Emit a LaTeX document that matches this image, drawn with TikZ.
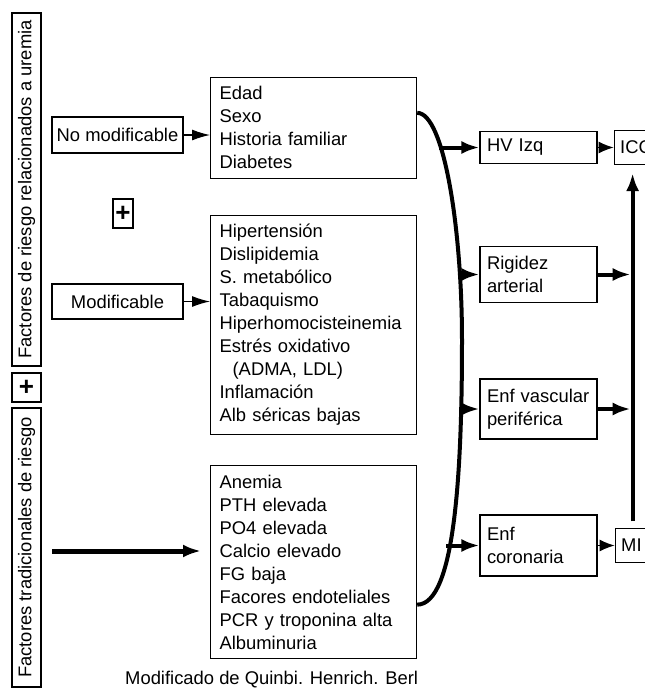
\documentclass[tikz,border=0pt]{standalone}
\usepackage{fontspec}
\setmainfont{Liberation Sans}
\usetikzlibrary{arrows.meta, positioning}

\begin{document}
\begin{tikzpicture}[x=1pt, y=1pt, >=Latex, node distance=16pt,
    box/.style={draw, line width=1.2pt, font=\fontsize{18.4}{23}\selectfont},
    listbox/.style={box, text width=188pt, align=left, inner xsep=9pt, inner ysep=9pt},
    sidebox/.style={box, minimum width=131pt, minimum height=36pt, inner sep=2pt},
    vbox/.style={box, rotate=90, minimum height=29pt, inner sep=1pt},
    plusbox/.style={box, minimum width=20pt, minimum height=29pt, inner sep=0pt, font=\fontsize{26}{26}\selectfont\bfseries},
    rbox/.style={box, text width=103pt, align=left, inner xsep=7pt, inner ysep=10pt},
    endbox/.style={box, minimum height=34pt, inner xsep=6pt},
    smallarrow/.style={-{Latex[length=18pt, width=11pt]}, line width=1.2pt},
    headonly/.style={-{Latex[length=15pt, width=12pt]}, line width=1.2pt},
    fat/.style={-{Latex[length=18pt, width=13pt]}, line width=4pt},
    brace/.style={line width=4pt}]

    \useasboundingbox (0,0) rectangle (645,-689);
    \clip (0,0) rectangle (645,-689);

    % left column
    \node (uremia) [vbox, minimum width=353pt] at (26.5,-189.5) {Factores de riesgo relacionados a uremia};
    \node (plusa) [plusbox, minimum width=29pt] at (26.5,-387.5) {+};
    \node (trad) [vbox, minimum width=279pt] at (26.5,-547.5) {Factores tradicionales de riesgo};

    \node (nomod) [sidebox] at (117.5,-135) {No modificable};
    \node (plusb) [plusbox] at (123,-213.5) {+};
    \node (modif) [sidebox, minimum height=35pt] at (117.5,-301.5) {Modificable};

    % factor lists
    \node (edad) [listbox, anchor=north west] at (210,-77) {Edad\\Sexo\\Historia familiar\\Diabetes};
    \node (hiper) [listbox, below=36pt of edad] {Hipertensión\\Dislipidemia\\S. metabólico\\Tabaquismo\\Hiperhomocisteinemia\\Estrés oxidativo\\\hspace*{13pt}(ADMA, LDL)\\Inflamación\\Alb séricas bajas};
    \node (anemia) [listbox, below=30pt of hiper] {Anemia\\PTH elevada\\PO4 elevada\\Calcio elevado\\FG baja\\Facores endoteliales\\PCR y troponina alta\\Albuminuria};

    % outcomes
    \node (hv) [rbox, inner ysep=8pt] at (538.5,-147.5) {HV Izq};
    \node (rig) [rbox] at (538.5,-274.5) {Rigidez\\arterial};
    \node (vasc) [rbox] at (538.5,-409) {Enf vascular\\periférica};
    \node (cor) [rbox, minimum height=61pt] at (538.5,-545.5) {Enf\\coronaria};
    \node (icc) [endbox, right=16pt of hv] {ICC};
    \node (mi) [endbox, right=17pt of cor] {MI};

    \node (fuente) [anchor=base west, inner sep=0pt, font=\fontsize{18.4}{23}\selectfont] at (125,-684) {Modificado de Quinbi. Henrich. Berl};

    \coordinate (tradout) at (52,-551);
    \coordinate (cbtop) at ([yshift=15pt]edad.east);
    \coordinate (cbbot) at ([yshift=-42.5pt]anemia.east);
    \coordinate (spinebot) at ([xshift=18pt, yshift=6.5pt]mi.north west);

    \draw [smallarrow] (nomod) -- (nomod -| edad.west);
    \draw [smallarrow] (modif) -- (modif -| hiper.west);
    \draw [fat, line width=5pt, shorten >=9pt] (tradout) -- (tradout -| anemia.west);

    \draw [brace] (cbtop) .. controls +(27,0) and +(0,110) .. (462,-340) .. controls +(0,-130) and +(38,0) .. (cbbot);

    \draw [fat] ([xshift=-40pt]hv.west) -- (hv);
    \draw [fat] ([xshift=-20pt]rig.west) -- (rig);
    \draw [fat] ([xshift=-20pt]vasc.west) -- (vasc);
    \draw [fat] ([xshift=-33pt]cor.west) -- (cor);

    \draw [headonly] (hv) -- (icc);
    \draw [headonly] (cor) -- (mi);
    \draw [fat, shorten >=2pt] (rig) -- (rig -| spinebot);
    \draw [fat, shorten >=2pt] (vasc) -- (vasc -| spinebot);
    \draw [fat, shorten >=8pt] (spinebot) -- (spinebot |- icc.south);

\end{tikzpicture}
\end{document}
